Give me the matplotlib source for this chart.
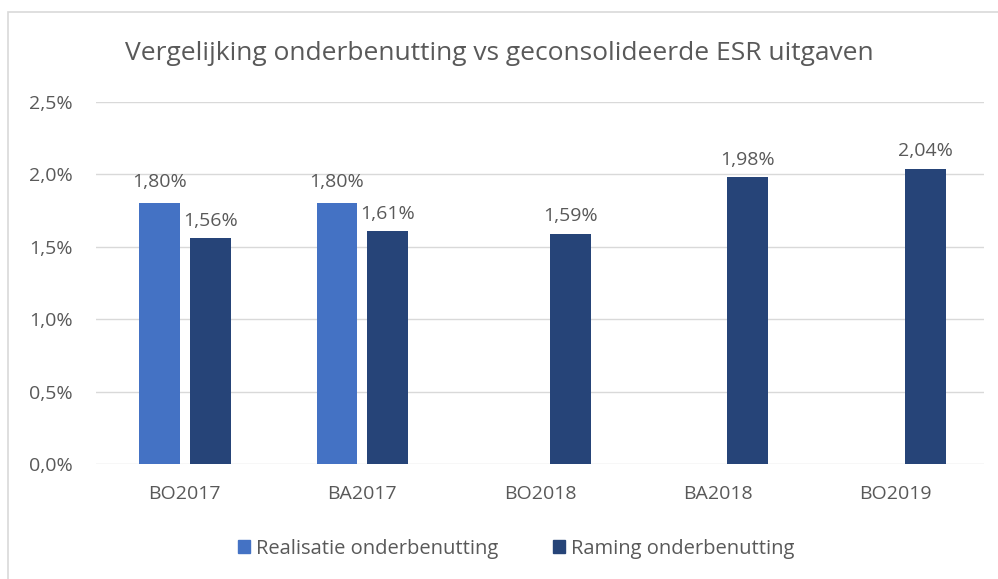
import numpy as np
from matplotlib import pyplot as plt
from matplotlib.patches import Rectangle

categories = ['BO2017', 'BA2017', 'BO2018', 'BA2018', 'BO2019']
realisatie = [1.80, 1.80, None, None, None]
raming = [1.56, 1.61, 1.59, 1.98, 2.04]
yticks = [0.0, 0.5, 1.0, 1.5, 2.0, 2.5]

c_light = '#4472C4'
c_dark = '#264478'
c_text = '#595959'

plt.rcParams['font.family'] = ['Open Sans', 'DejaVu Sans']


def pct(v, d):
	return (('%.' + str(d) + 'f') % v).replace('.', ',') + '%'


fig = plt.figure(figsize=(9.98, 5.79), dpi=100)
ax = fig.add_axes([0.0962, 0.1986, 0.8898, 0.6252])

x = np.arange(len(categories))
w = 0.23
off = 0.143

for i in range(len(categories)):
	if realisatie[i] is not None:
		ax.bar(x[i] - off, realisatie[i], w, color=c_light, zorder=3)
		ax.annotate(pct(realisatie[i], 2), (x[i] - off, realisatie[i]),
			xytext=(0, 9), textcoords='offset points',
			ha='center', va='bottom', fontsize=14, color=c_text)
		xr = x[i] + off
	else:
		xr = x[i] + 0.17
	ax.bar(xr, raming[i], w, color=c_dark, zorder=3)
	ax.annotate(pct(raming[i], 2), (xr, raming[i]),
		xytext=(0, 6), textcoords='offset points',
		ha='center', va='bottom', fontsize=14, color=c_text)

ax.set_xlim(-0.5, len(categories) - 0.5)
ax.set_ylim(0, 2.5)
ax.set_yticks(yticks)
ax.set_yticklabels([pct(v, 1) for v in yticks], fontsize=14, color=c_text)
ax.set_xticks(x)
ax.set_xticklabels(categories, fontsize=14, color=c_text)
ax.tick_params(length=0, pad=17, axis='y')
ax.tick_params(length=0, pad=15, axis='x')
ax.grid(axis='y', color='#D9D9D9', linewidth=1.0, zorder=0)
for s in ax.spines.values():
	s.set_visible(False)

fig.text(0.5, 0.907, 'Vergelijking onderbenutting vs geconsolideerde ESR uitgaven',
	ha='center', va='center', fontsize=19, color=c_text)

h1 = Rectangle((0, 0), 1, 1, color=c_light)
h2 = Rectangle((0, 0), 1, 1, color=c_dark)
fig.legend([h1, h2], ['Realisatie onderbenutting', 'Raming onderbenutting'],
	loc='center', bbox_to_anchor=(0.517, 0.052), ncol=2, frameon=False,
	fontsize=14.5, labelcolor=c_text, handlelength=0.6, handleheight=0.6,
	handletextpad=0.3, columnspacing=2.7)

fig.patches.append(Rectangle((0.008, -0.1), 1.2, 1.079, transform=fig.transFigure,
	fill=False, edgecolor='#D9D9D9', linewidth=1.2))

fig.savefig('out.png', dpi=100)
